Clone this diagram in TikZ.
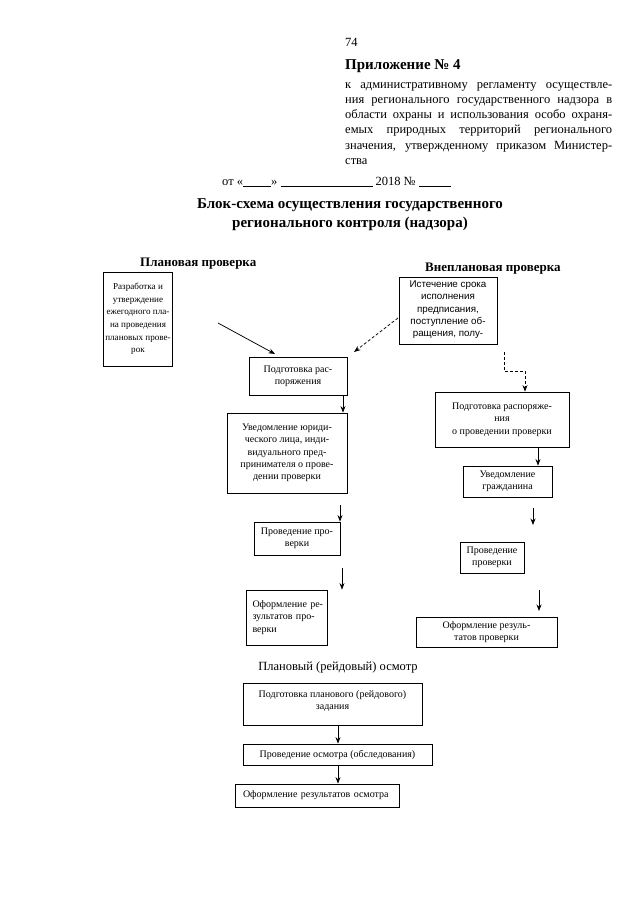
\documentclass[tikz,border=0pt]{standalone}
\usepackage{fontspec}
\setmainfont{Liberation Serif}
\setsansfont{Liberation Sans}
\usetikzlibrary{arrows.meta}
\tikzset{
  box/.style={draw, line width=0.8pt, inner sep=0pt, align=center,
    font=\fontsize{10}{12.3}\selectfont},
  arr/.style={line width=0.75pt, -{Stealth[length=6.5pt,width=5pt]}},
  darr/.style={line width=0.75pt, dash pattern=on 3pt off 2pt, -{Stealth[length=6.5pt,width=5pt]}},
  txt/.style={inner sep=0pt, anchor=base west},
}
\begin{document}
\begin{tikzpicture}[x=1pt,y=-1pt]
\useasboundingbox[fill=white] (0,0) rectangle (640,905);

% header
\node[txt, font=\fontsize{12.5}{15}\selectfont] (pg) at (345,46) {74};
\node[txt, font=\fontsize{15}{18}\selectfont\bfseries] (app) at (345,69) {Приложение № 4};
\node[txt, font=\fontsize{12.5}{15.3}\selectfont, align=left] (par) at (345,164.5) {%
\makebox[267pt][s]{к административному регламенту осуществле-}\\
\makebox[267pt][s]{ния регионального государственного надзора в}\\
\makebox[267pt][s]{области охраны и использования особо охраня-}\\
\makebox[267pt][s]{емых природных территорий регионального}\\
\makebox[267pt][s]{значения, утвержденному приказом Министер-}\\
ства};
\node[txt, font=\fontsize{12.5}{15}\selectfont] (date) at (222,185)
  {от «\underline{\hspace{28pt}}» \underline{\hspace{92pt}} 2018 № \underline{\hspace{32pt}}};
\node[inner sep=0pt, anchor=base, align=center, font=\fontsize{15}{19}\selectfont\bfseries] (title) at (350,227)
  {Блок-схема осуществления государственного\\регионального контроля (надзора)};

\node[txt, font=\fontsize{13}{15}\selectfont\bfseries] (plan) at (140,266) {Плановая проверка};
\node[txt, font=\fontsize{13}{15}\selectfont\bfseries] (vneplan) at (425,271) {Внеплановая проверка};

% left column
\node[box, minimum width=69pt, minimum height=94pt, font=\fontsize{9.1}{12.6}\selectfont] (A) at (138,319)
  {Разработка и\\утверждение\\ежегодного пла-\\на проведения\\плановых прове-\\рок};
\node[box, minimum width=98pt, minimum height=38pt] (B) at (298,376)
  {Подготовка рас-\\поряжения};
\node[box, minimum width=120pt, minimum height=80pt] (H) at (287,453)
  {Уведомление юриди-\\ческого лица, инди-\\видуального пред-\\принимателя о прове-\\дении проверки};
\node[box, minimum width=86pt, minimum height=33pt] (I) at (297,538.5)
  {Проведение про-\\верки};
\node[box, minimum width=81pt, minimum height=55pt, align=left, text width=74pt, inner xsep=3.5pt] (J) at (286.5,617.5)
  {\hspace{3pt}Оформление ре-\\\hspace{3pt}зультатов про-\\\hspace{3pt}верки\\[-5pt]};

% right column
\node[box, minimum width=98pt, minimum height=67pt, font=\fontsize{9.8}{12.4}\selectfont\sffamily] (C) at (448,310.5)
  {Истечение срока\\исполнения\\предписания,\\поступление об-\\ращения, полу-\\[-9pt]};
\node[box, minimum width=134pt, minimum height=55pt] (D) at (502,419.5)
  {Подготовка распоряже-\\ния\\о проведении проверки};
\node[box, minimum width=89pt, minimum height=31pt] (E) at (507.5,481.5)
  {Уведомление\\гражданина};
\node[box, minimum width=64pt, minimum height=31pt] (F) at (492,557.5)
  {Проведение\\проверки};
\node[box, minimum width=141pt, minimum height=30pt] (G) at (486.5,632)
  {Оформление резуль-\\татов проверки};

% bottom
\node[inner sep=0pt, anchor=base, font=\fontsize{12.5}{15}\selectfont] (osm) at (338,670) {Плановый (рейдовый) осмотр};
\node[box, minimum width=179pt, minimum height=42pt] (K) at (332.5,704)
  {Подготовка планового (рейдового)\\задания\\[-4pt]};
\node[box, minimum width=189pt, minimum height=21pt] (L) at (337.5,754.5)
  {Проведение осмотра (обследования)};
\node[box, minimum width=164pt, minimum height=23pt, align=left, text width=156pt, inner xsep=4pt] (M) at (317,795.5)
  {\hspace{4pt}Оформление результатов осмотра};

% connectors
\coordinate (a1) at (218,323); \coordinate (a2) at (275,354);
\draw[arr] (a1) -- (a2);
\coordinate (c1) at (398,318); \coordinate (c2) at (354,352);
\draw[darr] (c1) -- (c2);
\coordinate (e1) at (504,352); \coordinate (e2) at (504,371); \coordinate (e3) at (525,371);
\draw[darr] (e1) -- (e2) -- (e3) -- (e3 |- D.north);

\draw[arr] (B.south -| 343,0) -- (H.north -| 343,0);
\coordinate (h1) at (340,505);
\draw[arr] (h1) -- (I.north -| h1);
\coordinate (i1) at (342,568);
\draw[arr] (i1) -- (J.north -| i1);

\draw[arr] (D.south -| 538,0) -- (E.north -| 538,0);
\coordinate (f0) at (533,508); \coordinate (f1) at (533,525);
\draw[arr] (f0) -- (f1);
\coordinate (g0) at (539,590); \coordinate (g1) at (539,611);
\draw[arr] (g0) -- (g1);

\draw[arr] (K.south -| 338,0) -- (L.north -| 338,0);
\draw[arr] (L.south -| 338,0) -- (M.north -| 338,0);
\end{tikzpicture}
\end{document}
